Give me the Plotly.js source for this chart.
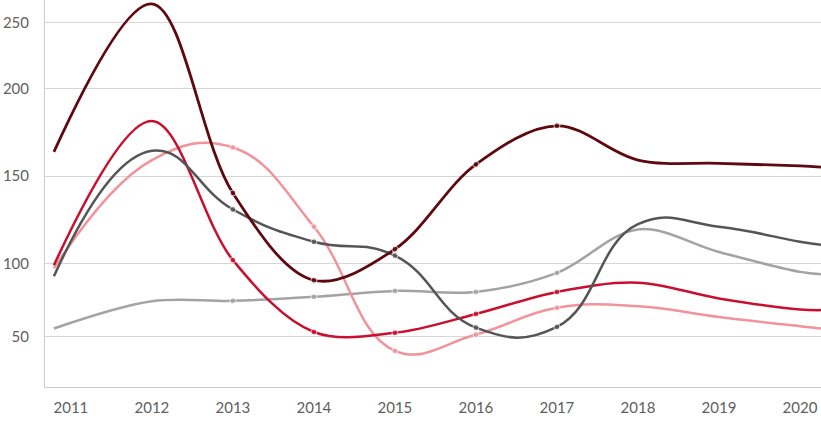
<!DOCTYPE html>
<html>
<head>
<meta charset="utf-8">
<script src="https://cdn.plot.ly/plotly-3.0.1.min.js"></script>
<style>html,body{margin:0;padding:0;background:#fff;}#chart{width:821px;height:422px;}</style>
</head>
<body>
<div id="chart"></div>
<script>
// x positions: start of drawn curve (≈2011), the years, and the end of the curve
const years = [2010.79, 2012, 2013, 2014, 2015, 2016, 2017, 2018, 2019, 2020, 2020.26];
const yearTicks = [2011, 2012, 2013, 2014, 2015, 2016, 2017, 2018, 2019, 2020];
const yearLabels = ["2011", "2012", "2013", "2014", "2015", "2016", "2017", "2018", "2019", "2020"];

// values read in the chart's axis units
const seriesDark  = [163.9, 248.6, 140.3, 90.4, 108.2, 156.7, 178.8, 159.2, 157.3, 155.9, 155.2];
const seriesRed   = [99.0, 181.5, 101.9, 60.8, 60.3, 71.1, 83.7, 89.0, 80.0, 73.7, 73.3];
const seriesGrey  = [92.7, 164.5, 130.9, 112.4, 104.5, 63.3, 63.7, 122.5, 121.0, 112.4, 110.7];
const seriesLight = [62.8, 78.4, 78.6, 80.9, 84.3, 83.7, 94.6, 119.5, 106.6, 95.2, 93.9];
const seriesPink  = [97.3, 159.2, 166.4, 121.0, 50.0, 59.3, 74.6, 75.5, 69.4, 64.1, 62.8];

const yTickVals = [58, 100, 150, 200, 238];
const yTickText = ["50", "100", "150", "200", "250"];

const markerSizes = [0, 0, 6, 6, 6, 6, 6, 0, 0, 0, 0];

function trace(y, color, width, smoothing) {
  return {
    x: years, y: y, type: 'scatter', mode: 'lines+markers',
    line: {color: color, width: width, shape: 'spline', smoothing: smoothing},
    marker: {color: color, size: markerSizes},
    cliponaxis: false, hoverinfo: 'skip'
  };
}

const data = [
  trace(seriesLight, '#a3a3a3', 2.5, 1),
  trace(seriesPink, '#f0939b', 2.5, 1.2),
  trace(seriesRed, '#c8102e', 2.5, 1),
  trace(seriesGrey, '#555555', 2.5, 1.3),
  trace(seriesDark, '#5e0910', 2.8, 1)
];

const layout = {
  width: 821, height: 422,
  margin: {l: 45, r: 0, t: 0, b: 35},
  paper_bgcolor: '#ffffff', plot_bgcolor: '#ffffff',
  showlegend: false,
  font: {family: 'Lato, sans-serif', size: 15, color: '#606060'},
  xaxis: {
    range: [2010.68, 2020.26],
    tickvals: yearTicks, ticktext: yearLabels,
    showgrid: false, zeroline: false,
    showline: true, linecolor: '#cccccc', linewidth: 1,
    ticks: '', ticklabelstandoff: 7,
    tickfont: {family: 'Lato, sans-serif', size: 15, color: '#606060'}
  },
  yaxis: {
    range: [29.3, 250.8],
    tickvals: yTickVals, ticktext: yTickText,
    showgrid: true, gridcolor: '#d6d6d6', gridwidth: 1,
    zeroline: false, showline: true, linecolor: '#cccccc', linewidth: 1,
    ticks: '', ticklabelstandoff: 12,
    tickfont: {family: 'Lato, sans-serif', size: 15, color: '#606060'}
  }
};

Plotly.newPlot('chart', data, layout, {displayModeBar: false, staticPlot: true});
</script>
</body>
</html>
